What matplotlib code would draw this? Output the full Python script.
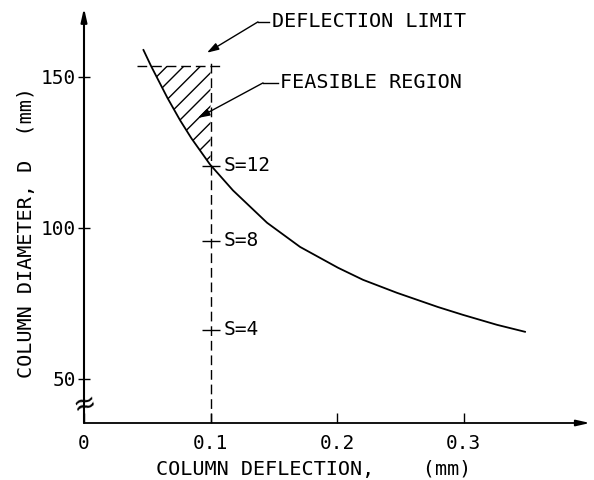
import numpy as np
import matplotlib
matplotlib.use('Agg')
import matplotlib.pyplot as plt

plt.rcParams['font.family'] = 'DejaVu Sans Mono'
plt.rcParams['hatch.linewidth'] = 1.0

# curve: column deflection (mm) vs column diameter D (mm)
deflection = [0.047, 0.053, 0.066, 0.076, 0.085, 0.0996, 0.1178, 0.1447,
              0.1708, 0.2008, 0.2206, 0.2474, 0.2798, 0.2996, 0.3265, 0.3486]
diameter = [158.9, 153.6, 143.0, 135.6, 129.6, 121.0, 112.4, 101.7,
            93.7, 86.8, 82.8, 78.5, 73.8, 71.2, 67.9, 65.6]

limit_defl = 0.1        # deflection limit
limit_diam = 153.6      # upper diameter bound (horizontal dashed line)

s_labels = ['S=4', 'S=8', 'S=12']
s_diam = [66.2, 95.7, 120.5]

xticks = [0, 0.1, 0.2, 0.3]
xtick_labels = ['0', '0.1', '0.2', '0.3']
yticks = [50, 100, 150]

fig = plt.figure(figsize=(5.94, 4.8), dpi=100)
ax = fig.add_axes([84 / 594, 1 - 423 / 480, 506 / 594, 415 / 480])
ax.set_xlim(0, 0.40)
ax.set_ylim(35.4, 172.8)
for s in ax.spines.values():
    s.set_visible(False)

# axes with arrows
ax.annotate('', xy=(0, 1), xytext=(0, 0), xycoords='axes fraction',
            arrowprops=dict(arrowstyle='-|>,head_length=0.8,head_width=0.18',
                            lw=1.5, color='black', shrinkA=0, shrinkB=0))
ax.annotate('', xy=(1, 0), xytext=(0, 0), xycoords='axes fraction',
            arrowprops=dict(arrowstyle='-|>,head_length=0.8,head_width=0.18',
                            lw=1.3, color='black', shrinkA=0, shrinkB=0))

ax.set_xticks(xticks)
ax.set_xticklabels(xtick_labels)
ax.set_yticks(yticks)
ax.tick_params(axis='x', direction='in', length=7, width=1, pad=8, labelsize=14)
ax.tick_params(axis='y', direction='inout', length=9, width=1, pad=1, labelsize=14)

# axis break mark
ax.text(0, 41.7, '\u2248', fontsize=20, family='DejaVu Sans', ha='center',
        va='center', rotation=15)

# curve
ax.plot(deflection, diameter, color='black', lw=1.3)

# feasible region (hatched)
d = np.array(deflection)
D = np.array(diameter)
mask = (D <= limit_diam) & (d <= limit_defl)
ax.fill_betweenx(D[mask], d[mask], limit_defl, facecolor='none',
                 edgecolor='black', hatch='//', lw=0)

# dashed limit lines
ax.plot([0.042, 0.110], [limit_diam, limit_diam], color='black', lw=1,
        dashes=(7, 3.5))
ax.plot([limit_defl, limit_defl], [35.4, 155.4], color='black', lw=1,
        dashes=(7, 3.5))

# S marks
ax.plot([limit_defl] * len(s_diam), s_diam, ls='none', marker='_',
        markersize=13, mew=1, color='black')
for lab, y in zip(s_labels, s_diam):
    ax.text(0.110, y, lab, fontsize=14, va='center', ha='left')

# annotations
arrow = dict(arrowstyle='-|>,head_length=0.7,head_width=0.22', lw=1,
             color='black', shrinkA=0, shrinkB=0)
ax.annotate('', xy=(0.0972, 158.0), xytext=(0.1375, 168.2), arrowprops=arrow)
ax.plot([0.1375, 0.1466], [168.2, 168.2], color='black', lw=1)
ax.text(0.1486, 168.2, 'DEFLECTION LIMIT', fontsize=14.5, va='center', ha='left')

ax.annotate('', xy=(0.0901, 136.4), xytext=(0.1415, 148.0), arrowprops=arrow)
ax.plot([0.1415, 0.1530], [148.0, 148.0], color='black', lw=1)
ax.text(0.1550, 148.0, 'FEASIBLE REGION', fontsize=14.5, va='center', ha='left')

# axis titles
fig.text(314 / 594, 1 - 470 / 480, 'COLUMN DEFLECTION,    (mm)', fontsize=14.5,
         ha='center', va='center')
fig.text(27 / 594, 1 - 233 / 480, 'COLUMN DIAMETER, D  (mm)', fontsize=14.5,
         ha='center', va='center', rotation=90)

fig.savefig('out.png', dpi=100)
